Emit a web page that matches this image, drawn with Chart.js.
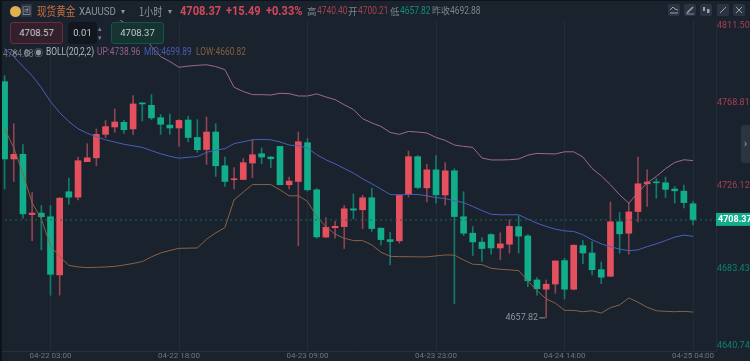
<!DOCTYPE html>
<html>
<head>
<meta charset="utf-8">
<script src="https://cdn.jsdelivr.net/npm/chart.js@4"></script>
<style>
  html, body { margin: 0; padding: 0; background: #1a222e; }
  #wrap { position: relative; width: 750px; height: 361px; overflow: hidden; font-family: "Noto Sans CJK SC", Roboto, sans-serif; }
  #c { position: absolute; left: 0; top: 0; }
  .t { position: absolute; white-space: nowrap; line-height: 14px; transform-origin: left center; }
  .nw { font-family: Roboto, sans-serif; transform: scaleX(0.84); }
  .box { position: absolute; box-sizing: border-box; top: 22px; height: 22px; border-radius: 3px; text-align: center; line-height: 20px; font-size: 9.5px; color: #c3c8cf; font-family: Roboto, sans-serif; }
  .ico { position: absolute; top: 4px; width: 12px; height: 12px; border-radius: 2px; background: #2b3442; }
  .ico svg { display: block; }
  .edge-l { position: absolute; left: 0; top: 0; width: 2px; height: 361px; background: #0e1219; }
  .edge-t { position: absolute; left: 0; top: 0; width: 750px; height: 1px; background: #0e1219; }
</style>
</head>
<body>
<div id="wrap">
  <canvas id="c" width="750" height="361"></canvas>
  <div class="edge-l"></div><div class="edge-t"></div>

  <div style="position:absolute;left:10px;top:6px;width:11px;height:11px;border-radius:50%;background:#e0b050"></div>
  <div class="t" style="left:21px;top:4px;width:11px;height:13px;line-height:13px;font-size:9px;color:#8b929c;background:#2d3542;text-align:center">团</div>
  <div class="t" style="left:37px;top:3px;font-size:12px;line-height:16px;color:#c9703f;transform:scaleX(0.8)">现货黄金</div>
  <div class="t nw" style="left:79px;top:4px;font-size:11.5px;color:#8d949e">XAUUSD</div>
  <div class="t" style="left:121px;top:4px;font-size:8px;color:#8d949e">▾</div>
  <div class="t" style="left:139px;top:3px;font-size:11.5px;line-height:16px;color:#8d949e;transform:scaleX(0.8)">1小时</div>
  <div class="t" style="left:168px;top:4px;font-size:8px;color:#8d949e">▾</div>
  <div class="t nw" style="left:180px;top:4px;font-size:12px;font-weight:700;color:#d2495a;transform:scaleX(0.92)">4708.37</div>
  <div class="t nw" style="left:226px;top:4px;font-size:12px;font-weight:700;color:#d2495a;transform:scaleX(0.92)">+15.49</div>
  <div class="t nw" style="left:266px;top:4px;font-size:12px;font-weight:700;color:#d2495a;transform:scaleX(0.92)">+0.33%</div>
  <div class="t" style="left:307px;top:4px;font-size:9.5px;color:#7d848e">高</div>
  <div class="t nw" style="left:317px;top:4px;font-size:10px;color:#a8414f">4740.40</div>
  <div class="t" style="left:348px;top:4px;font-size:9.5px;color:#7d848e">开</div>
  <div class="t nw" style="left:358px;top:4px;font-size:10px;color:#a8414f">4700.21</div>
  <div class="t" style="left:390px;top:4px;font-size:9.5px;color:#7d848e">低</div>
  <div class="t nw" style="left:400px;top:4px;font-size:10px;color:#0f8f74">4657.82</div>
  <div class="t" style="left:432px;top:4px;font-size:9px;color:#7d848e">昨收</div>
  <div class="t nw" style="left:450px;top:4px;font-size:10px;color:#7d848e">4692.88</div>

  <div class="ico" style="left:668px"><svg width="12" height="12" viewBox="0 0 12 12" fill="none" stroke="#98a1ad" stroke-width="1"><path d="M2 6 L5 3 L7 5 L10 6"/><path d="M2 9 H10"/></svg></div>
  <div class="ico" style="left:684px"><svg width="12" height="12" viewBox="0 0 12 12" fill="none" stroke="#98a1ad" stroke-width="1.6"><path d="M3 9 L9 3"/><path d="M2 10 H10" stroke-width="0.8"/></svg></div>
  <div class="ico" style="left:700px"><svg width="12" height="12" viewBox="0 0 12 12" fill="#98a1ad"><rect x="3" y="3" width="2" height="4"/><rect x="7" y="5" width="2.5" height="4"/></svg></div>
  <div class="ico" style="left:717px"><svg width="12" height="12" viewBox="0 0 12 12" fill="none" stroke="#98a1ad" stroke-width="1"><path d="M3 9 L9 3"/></svg></div>
  <div class="ico" style="left:733px"><svg width="12" height="12" viewBox="0 0 12 12" fill="none" stroke="#98a1ad" stroke-width="1"><path d="M3 3 L9 9 M9 3 L3 9"/></svg></div>

  <div class="box" style="left:10px;width:53px;background:#33202c;border:1px solid #6a2e3a">4708.57</div>
  <div class="box" style="left:68px;width:29px;background:#11161f;border:0;line-height:22px">0.01</div>
  <div class="t" style="left:98px;top:24px;font-size:7px;line-height:9px;color:#7d848e">▴<br>▾</div>
  <div class="box" style="left:111px;width:53px;background:#15332f;border:1px solid #10564d">4708.37</div>

  <div class="t nw" style="left:3px;top:47px;font-size:10px;color:#6f7680">4764.88</div>
  <div class="t" style="left:11px;top:46px;font-size:9px;color:#8d949e">✕</div>
  <div class="t" style="left:23px;top:46px;font-size:9px;color:#8d949e">⚙</div>
  <div class="t" style="left:34px;top:46px;font-size:9px;color:#8d949e">◉</div>
  <div class="t nw" style="left:46px;top:45px;font-size:10px;color:#b4b9c0">BOLL(20,2,2)</div>
  <div class="t nw" style="left:97px;top:45px;font-size:10px;color:#94608a">UP:4738.96</div>
  <div class="t nw" style="left:144px;top:45px;font-size:10px;color:#4a5cb0">MID:4699.89</div>
  <div class="t nw" style="left:196px;top:45px;font-size:10px;color:#85603f">LOW:4660.82</div>

  <div style="position:absolute;left:741px;top:125px;width:9px;height:38px;background:#2c3440;border-radius:3px 0 0 3px;color:#98a1ad;font-size:11px;line-height:38px;text-align:center;font-family:Roboto">›</div>
</div>

<script>
// candles, 1h, index 0 = 04-21 22:00
const times = [
  "04-21 22:00","04-21 23:00","04-22 00:00","04-22 01:00","04-22 02:00","04-22 03:00","04-22 04:00","04-22 06:00",
  "04-22 07:00","04-22 08:00","04-22 09:00","04-22 10:00","04-22 11:00","04-22 12:00","04-22 13:00","04-22 14:00",
  "04-22 15:00","04-22 16:00","04-22 17:00","04-22 18:00","04-22 19:00","04-22 20:00","04-22 21:00","04-22 22:00",
  "04-22 23:00","04-23 00:00","04-23 01:00","04-23 02:00","04-23 03:00","04-23 04:00","04-23 06:00","04-23 07:00",
  "04-23 08:00","04-23 09:00","04-23 10:00","04-23 11:00","04-23 12:00","04-23 13:00","04-23 14:00","04-23 15:00",
  "04-23 16:00","04-23 17:00","04-23 18:00","04-23 19:00","04-23 20:00","04-23 21:00","04-23 22:00","04-23 23:00",
  "04-24 00:00","04-24 01:00","04-24 02:00","04-24 03:00","04-24 04:00","04-24 06:00","04-24 07:00","04-24 08:00",
  "04-24 09:00","04-24 10:00","04-24 11:00","04-24 12:00","04-24 13:00","04-24 14:00","04-24 15:00","04-24 16:00",
  "04-24 17:00","04-24 18:00","04-24 19:00","04-24 20:00","04-24 21:00","04-24 22:00","04-24 23:00","04-25 00:00",
  "04-25 01:00","04-25 02:00","04-25 03:00","04-25 04:00",
  "", "" // empty room on the right
];
const shownTimes = ["04-22 03:00","04-22 18:00","04-23 09:00","04-23 23:00","04-24 14:00","04-25 04:00"];
const priceTicks = [4640.74, 4683.43, 4726.12, 4768.81, 4811.50];
const lastPrice = 4708.37;
const lowLabel = { index: 59, price: 4657.82, text: "4657.82" };

const opens = [
  4779.7,4739.8,4742.2,4711.1,4711.9,4710.0,4680.0,4722.9,4720.1,4738.4,4740.4,4752.5,4756.3,4758.7,4755.3,4768.7,
  4767.5,4761.1,4757.3,4755.8,4759.9,4750.9,4744.7,4753.7,4736.3,4729.1,4729.2,4737.7,4742.5,4740.8,4746.3,4726.5,
  4728.2,4748.2,4723.9,4699.5,4704.3,4704.9,4714.1,4713.6,4719.8,4704.1,4698.2,4697.6,4721.5,4741.0,4724.9,4734.2,
  4721.2,4733.7,4710.0,4701.5,4696.9,4700.8,4693.9,4695.8,4704.9,4700.1,4677.4,4672.6,4675.3,4687.4,4672.6,4695.1,
  4691.3,4682.7,4679.3,4707.4,4701.5,4712.7,4727.0,4728.0,4727.5,4724.3,4723.2,4716.7
];
const closes = [
  4739.8,4742.2,4711.5,4711.9,4710.0,4680.3,4719.6,4720.1,4738.9,4740.4,4752.5,4756.5,4758.9,4754.9,4768.2,4768.2,
  4761.0,4757.7,4755.8,4759.7,4750.9,4744.6,4753.7,4736.3,4728.2,4729.6,4737.9,4742.0,4740.8,4739.9,4726.5,4728.4,
  4748.7,4723.9,4699.6,4704.6,4705.1,4714.1,4713.4,4719.8,4703.9,4698.2,4697.2,4721.2,4741.0,4725.1,4734.2,4721.3,
  4733.7,4710.1,4701.5,4697.0,4693.6,4693.9,4696.0,4705.1,4700.0,4677.0,4672.9,4675.2,4687.2,4672.6,4695.3,4691.3,
  4682.7,4678.8,4707.4,4701.2,4712.5,4727.0,4727.9,4727.5,4724.1,4723.4,4717.3,4708.37
];
const highs = [
  4782.8,4758.0,4747.2,4722.5,4715.8,4715.8,4719.8,4730.0,4740.8,4747.7,4755.3,4759.6,4765.6,4759.7,4772.5,4769.0,
  4773.0,4762.8,4763.0,4760.1,4761.8,4760.1,4761.5,4758.0,4740.8,4735.4,4740.1,4749.7,4745.5,4741.1,4746.3,4730.5,
  4753.7,4750.4,4724.6,4709.4,4707.7,4715.8,4721.8,4721.1,4724.8,4704.3,4702.0,4721.5,4743.9,4741.6,4737.2,4741.5,
  4737.9,4734.8,4722.9,4704.9,4699.3,4701.3,4701.7,4708.4,4710.5,4700.8,4678.6,4677.4,4687.2,4688.6,4695.6,4697.7,
  4697.2,4686.7,4717.6,4712.2,4717.0,4740.8,4734.2,4729.7,4730.5,4725.6,4726.3,4718.1
];
const lows = [
  4724.3,4728.2,4709.3,4697.7,4692.9,4669.5,4669.6,4716.3,4718.7,4738.4,4736.3,4750.8,4753.5,4753.0,4752.5,4759.4,
  4760.1,4752.5,4752.5,4746.3,4748.7,4743.2,4737.0,4730.8,4725.6,4724.4,4729.1,4730.1,4737.3,4735.4,4726.5,4724.3,
  4695.0,4723.2,4698.9,4699.3,4698.9,4693.6,4708.9,4703.8,4702.4,4695.5,4685.1,4696.4,4720.1,4724.4,4717.7,4717.0,
  4716.0,4665.1,4700.3,4690.0,4686.9,4690.7,4687.9,4691.2,4691.2,4673.9,4669.6,4657.82,4670.5,4667.6,4672.2,4685.8,
  4680.0,4675.5,4679.1,4691.2,4690.7,4707.5,4715.3,4719.6,4719.8,4717.0,4714.6,4705.8
];

const bollUp = [
  null,null,null,null,null,null,null,null,null,null,null,null,
  4813.3,4810.2,4807.6,4805.0,4797.8,4792.6,4790.1,4787.1,4787.7,4788.1,4788.4,4787.5,4785.9,4776.8,4774.6,4773.0,
  4773.0,4772.8,4773.7,4773.5,4772.3,4772.3,4773.4,4771.8,4770.4,4767.8,4765.3,4760.6,4758.4,4756.6,4753.5,4752.5,
  4754.0,4753.7,4753.2,4750.9,4749.4,4747.0,4746.3,4745.8,4740.3,4739.3,4739.3,4739.4,4739.8,4741.8,4742.7,4742.5,
  4742.4,4743.5,4743.5,4740.8,4734.9,4731.1,4726.5,4721.3,4717.0,4722.5,4727.4,4730.8,4734.8,4738.0,4739.4,4738.96
];
const bollMid = [
  4796.8,4792.6,4787.5,4782.8,4776.6,4769.4,4763.7,4759.1,4755.4,4753.1,4751.3,4749.7,4748.5,4747.4,4746.6,4745.8,
  4744.1,4742.5,4741.2,4740.2,4740.7,4741.0,4743.2,4744.4,4745.1,4747.7,4748.7,4749.7,4749.9,4749.7,4748.6,4747.0,
  4746.6,4745.5,4742.0,4739.4,4737.3,4734.9,4732.5,4729.6,4727.0,4724.3,4721.5,4721.2,4721.5,4721.5,4720.8,4719.9,
  4719.4,4718.2,4717.3,4715.3,4713.2,4711.3,4711.0,4711.0,4711.0,4708.8,4706.7,4705.0,4703.6,4702.7,4702.4,4700.7,
  4698.1,4696.0,4694.6,4693.3,4692.5,4692.9,4694.6,4696.0,4697.7,4699.5,4700.5,4699.89
];
const bollLow = [
  4755.4,4745.6,4732.2,4717.2,4708.9,4695.0,4689.5,4684.9,4684.1,4683.8,4683.9,4684.1,4684.4,4685.1,4685.9,4686.9,
  4689.3,4691.3,4692.6,4693.7,4693.8,4693.9,4698.4,4701.7,4704.4,4718.7,4722.7,4726.6,4726.6,4726.6,4723.9,4720.8,
  4720.8,4717.9,4710.1,4704.9,4701.0,4698.9,4697.7,4697.7,4695.5,4691.7,4689.6,4689.4,4689.4,4689.3,4689.3,4689.8,
  4690.3,4690.2,4687.7,4685.5,4685.3,4683.4,4682.9,4682.6,4682.2,4677.0,4671.9,4667.6,4665.4,4661.7,4661.7,4661.0,
  4661.5,4660.3,4663.1,4664.5,4668.1,4665.9,4663.3,4661.5,4661.2,4661.0,4661.2,4660.82
];

const redBody = "#e5505f", greenBody = "#12ad8b";
const redWick = "#8f4250", greenWick = "#0f7d69";
const axisFont = "Roboto, sans-serif";

const isUp = (i) => closes[i] >= opens[i];

// last price dotted line + tag, and the low marker
const priceMarks = {
  id: "priceMarks",
  afterDatasetsDraw(chart) {
    const { ctx, chartArea, scales } = chart;
    const y = scales.y.getPixelForValue(lastPrice);
    ctx.save();
    ctx.strokeStyle = "#0f6a5c";
    ctx.lineWidth = 1;
    ctx.setLineDash([2, 3]);
    ctx.beginPath();
    ctx.moveTo(chartArea.left, y);
    ctx.lineTo(chartArea.right, y);
    ctx.stroke();
    ctx.setLineDash([]);

    ctx.fillStyle = "#12ad8b";
    ctx.fillRect(chartArea.right, y - 7, 750 - chartArea.right, 13);
    ctx.fillStyle = "#ffffff";
    ctx.font = "bold 9px " + axisFont;
    ctx.textAlign = "left";
    ctx.textBaseline = "middle";
    ctx.fillText(lastPrice.toFixed(2), chartArea.right + 2, y);

    const lx = scales.x.getPixelForValue(lowLabel.index);
    const ly = scales.y.getPixelForValue(lowLabel.price);
    ctx.strokeStyle = "#8b929c";
    ctx.beginPath();
    ctx.moveTo(lx - 1, ly);
    ctx.lineTo(lx - 7, ly);
    ctx.stroke();
    ctx.fillStyle = "#8f959d";
    ctx.font = "9px " + axisFont;
    ctx.textAlign = "right";
    ctx.fillText(lowLabel.text, lx - 8, ly);
    ctx.restore();
  }
};

new Chart(document.getElementById("c"), {
  data: {
    labels: times,
    datasets: [
      { type: "line", label: "UP", data: bollUp, borderColor: "#a0688f", borderWidth: 1, pointRadius: 0, tension: 0, order: 0 },
      { type: "line", label: "MID", data: bollMid, borderColor: "#4c5fb8", borderWidth: 1, pointRadius: 0, tension: 0, order: 0 },
      { type: "line", label: "LOW", data: bollLow, borderColor: "#8c6244", borderWidth: 1, pointRadius: 0, tension: 0, order: 0 },
      {
        type: "bar", label: "body", grouped: false, order: 1, barThickness: 6,
        data: opens.map((o, i) => [o, closes[i]]),
        backgroundColor: opens.map((o, i) => isUp(i) ? redBody : greenBody)
      },
      {
        type: "bar", label: "wick", grouped: false, order: 2, barThickness: 1,
        data: lows.map((l, i) => [l, highs[i]]),
        backgroundColor: lows.map((l, i) => isUp(i) ? redWick : greenWick)
      }
    ]
  },
  options: {
    responsive: false,
    animation: false,
    layout: { padding: { top: 20, left: 0, right: 0, bottom: 0 } },
    plugins: { legend: { display: false }, tooltip: { enabled: false } },
    scales: {
      x: {
        type: "category",
        offset: true,
        border: { display: true, color: "#262f3c" },
        grid: {
          offset: false,
          drawTicks: false,
          color: (c) => shownTimes.includes(times[c.index]) ? "#232c39" : "rgba(0,0,0,0)"
        },
        ticks: {
          autoSkip: false,
          maxRotation: 0,
          padding: 0,
          color: "#6f7680",
          font: { family: axisFont, size: 8 },
          callback: (v, i) => shownTimes.includes(times[i]) ? times[i] : ""
        },
        afterFit(s) { s.height = 10; s.paddingLeft = 0; s.paddingRight = 0; }
      },
      y: {
        position: "right",
        min: priceTicks[0],
        max: priceTicks[priceTicks.length - 1],
        border: { display: true, color: "#232c39" },
        grid: { display: false, drawTicks: false },
        afterBuildTicks(s) { s.ticks = priceTicks.map((v) => ({ value: v })); },
        afterFit(s) { s.width = 34; s.paddingTop = 0; s.paddingBottom = 0; },
        ticks: {
          padding: 1,
          color: (c) => c.tick.value > lastPrice ? "#a8414f" : "#0f8170",
          font: { family: axisFont, size: 9 },
          // top and bottom labels sit inside the plot, a blank line pushes them in
          callback: (v) => {
            const s = v.toFixed(2);
            if (v === priceTicks[priceTicks.length - 1]) return ["", s];
            if (v === priceTicks[0]) return [s, ""];
            return s;
          }
        }
      }
    }
  },
  plugins: [priceMarks]
});
</script>
</body>
</html>
